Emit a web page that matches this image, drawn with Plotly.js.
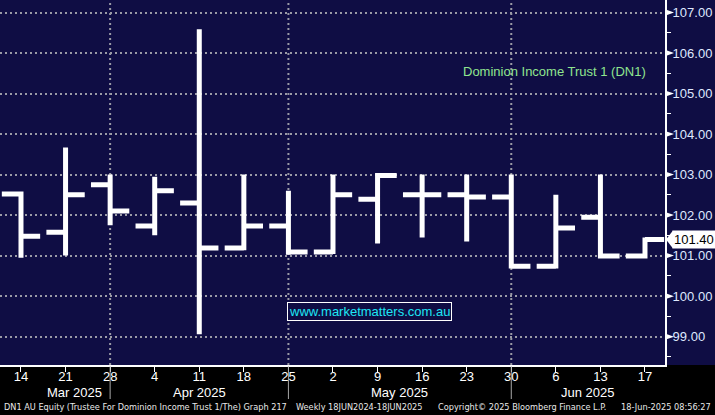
<!DOCTYPE html>
<html>
<head>
<meta charset="utf-8">
<script src="https://cdn.plot.ly/plotly-3.0.1.min.js"></script>
<style>html,body{margin:0;padding:0;background:#000;}#chart{width:715px;height:415px;}</style>
</head>
<body>
<div id="chart"></div>
<script>
// ---- data (weekly OHLC, DN1 AU) ----
const weekLabels = ["14","21","28","4","11","18","25","2","9","16","23","30","6","13","17"];
const openVals  = [102.52, 101.58, 102.75, 101.73, 102.30, 101.19, 101.73, 101.09, 102.39, 102.50, 102.50, 102.45, 100.74, 101.95, 100.99];
const highVals  = [102.58, 103.67, 103.00, 102.95, 106.59, 103.00, 102.60, 103.00, 103.04, 103.00, 103.00, 103.00, 102.50, 103.00, 101.45];
const lowVals   = [100.95, 101.00, 101.75, 101.50,  99.06, 101.13, 101.02, 101.04, 101.30, 101.45, 101.35, 100.68, 100.68, 100.93, 100.93];
const closeVals = [101.48, 102.50, 102.10, 102.60, 101.19, 101.73, 101.09, 102.50, 102.98, 102.50, 102.45, 100.74, 101.68, 100.99, 101.40];
const monthLabels = ["Mar 2025","Apr 2025","May 2025","Jun 2025"];
const monthEndIdx = [2, 6, 11];          // last week of Mar, Apr, May
const yTickVals = [99,100,101,102,103,104,105,106,107];

// ---- layout constants ----
const NAVY = "#0f0d44";
const xIdx = weekLabels.map((_, i) => i);
const xRange = [-0.471, 14.449];
const yRange = [98.30, 107.31];
const monthCenters = [1.2, 4.0, 8.5, 12.72];
const plotW = 665, plotH = 365;

const trace = {
  type: "ohlc",
  x: xIdx,
  open: openVals, high: highVals, low: lowVals, close: closeVals,
  increasing: {line: {color: "#ffffff", width: 5}},
  decreasing: {line: {color: "#ffffff", width: 5}},
  tickwidth: 0.43,
  hoverinfo: "skip",
  showlegend: false
};

const shapes = [];
// black band below the plot
shapes.push({type: "rect", xref: "paper", yref: "paper", x0: -0.05, x1: 1.2, y0: -0.3, y1: 0,
  fillcolor: "#000000", line: {width: 0}, layer: "below"});
// vertical month gridlines & separators
monthEndIdx.forEach(i => {
  shapes.push({type: "line", xref: "x", yref: "paper", x0: i, x1: i, y0: 0, y1: 1,
    line: {color: "#9a9aa6", width: 2, dash: "2px,3px"}, layer: "below"});
  shapes.push({type: "line", xref: "x", yref: "paper", x0: i, x1: i, y0: -0.004, y1: -34 / plotH,
    line: {color: "#a8a8a8", width: 1}});
});
// triangle tick markers on the right axis
yTickVals.forEach(v => {
  const h = 3.2 / ((plotH) / (yRange[1] - yRange[0]));
  shapes.push({type: "path", xref: "paper", yref: "y",
    path: `M 1.0 ${v - h} L ${1 + 9 / plotW} ${v} L 1.0 ${v + h} Z`,
    fillcolor: "#ffffff", line: {width: 0}});
});
// last price pointer
const lastClose = closeVals[closeVals.length - 1];
{
  const h = 9 / ((plotH) / (yRange[1] - yRange[0]));
  shapes.push({type: "path", xref: "paper", yref: "y",
    path: `M ${1 + 1 / plotW} ${lastClose} L ${1 + 8 / plotW} ${lastClose + h} L ${1 + 8 / plotW} ${lastClose - h} Z`,
    fillcolor: "#ffffff", line: {width: 0}});
}

const annotations = [];
monthLabels.forEach((m, k) => {
  annotations.push({xref: "x", yref: "paper", x: monthCenters[k], y: -27.5 / plotH,
    text: m, showarrow: false, xanchor: "center", yanchor: "middle",
    font: {family: "Liberation Sans, Arial, sans-serif", size: 13, color: "#ffffff"}});
});
annotations.push({xref: "paper", yref: "y", x: 1 + 7 / plotW, y: lastClose,
  text: lastClose.toFixed(2), showarrow: false, xanchor: "left", yanchor: "middle",
  bgcolor: "#ffffff", borderpad: 1,
  font: {family: "Liberation Sans, Arial, sans-serif", size: 13, color: "#000000"}});
annotations.push({xref: "paper", yref: "paper", x: 648 / plotW, y: (plotH - 71.7) / plotH,
  text: "Dominion Income Trust 1 (DN1)", showarrow: false, xanchor: "right", yanchor: "middle",
  font: {family: "Liberation Sans, Arial, sans-serif", size: 13, color: "#8fe58f"}});
annotations.push({xref: "paper", yref: "paper", x: 369 / plotW, y: (plotH - 311.5) / plotH,
  text: "www.marketmatters.com.au", showarrow: false, xanchor: "center", yanchor: "middle",
  bgcolor: NAVY, bordercolor: "#ffffff", borderwidth: 1, borderpad: 1,
  font: {family: "Liberation Sans, Arial, sans-serif", size: 13, color: "#1ee6f5"}});
const footFont = {family: "Liberation Sans Narrow, DejaVu Sans Condensed, Arial Narrow, sans-serif", size: 9.1, color: "#e8e8e8"};
const footY = -(407 - plotH) / plotH;
[["DN1 AU Equity (Trustee For Dominion Income Trust 1/The) Graph 217", 2, "left"],
 ["Weekly 18JUN2024-18JUN2025", 294, "left"],
 ["Copyright\u00a9 2025 Bloomberg Finance L.P.", 436, "left"],
 ["18-Jun-2025 08:56:27", 713, "right"]].forEach(([t, px, anc]) => {
  annotations.push({xref: "paper", yref: "paper", x: px / plotW, y: footY, text: t,
    showarrow: false, xanchor: anc, yanchor: "middle", font: footFont});
});

const layout = {
  width: 715, height: 415,
  margin: {l: 0, r: 50, t: 0, b: 50, pad: 0},
  paper_bgcolor: NAVY, plot_bgcolor: NAVY,
  showlegend: false,
  xaxis: {
    range: xRange, tickmode: "array", tickvals: xIdx, ticktext: weekLabels,
    showgrid: false, zeroline: false, rangeslider: {visible: false},
    showline: true, linecolor: "#ffffff", linewidth: 2,
    ticks: "outside", ticklen: 5, tickcolor: "#ffffff", tickwidth: 1,
    ticklabelstandoff: -7,
    tickfont: {family: "Liberation Sans, Arial, sans-serif", size: 13, color: "#ffffff"},
    fixedrange: true
  },
  yaxis: {
    side: "right", range: yRange, tickmode: "array", tickvals: yTickVals,
    ticktext: yTickVals.map(v => v.toFixed(2)),
    showgrid: true, gridcolor: "#9a9aa6", gridwidth: 2, griddash: "2px,3px",
    zeroline: false, showline: true, linecolor: "#ffffff", linewidth: 2,
    ticks: "", ticklabelstandoff: 3,
    minor: {dtick: 0.5, ticks: "outside", ticklen: 4, tickcolor: "#ffffff", tickwidth: 1, showgrid: false},
    tickfont: {family: "Liberation Sans, Arial, sans-serif", size: 13, color: "#dfe8ff"},
    fixedrange: true
  },
  shapes: shapes,
  annotations: annotations
};

Plotly.newPlot("chart", [trace], layout, {displayModeBar: false, staticPlot: true});
</script>
</body>
</html>
